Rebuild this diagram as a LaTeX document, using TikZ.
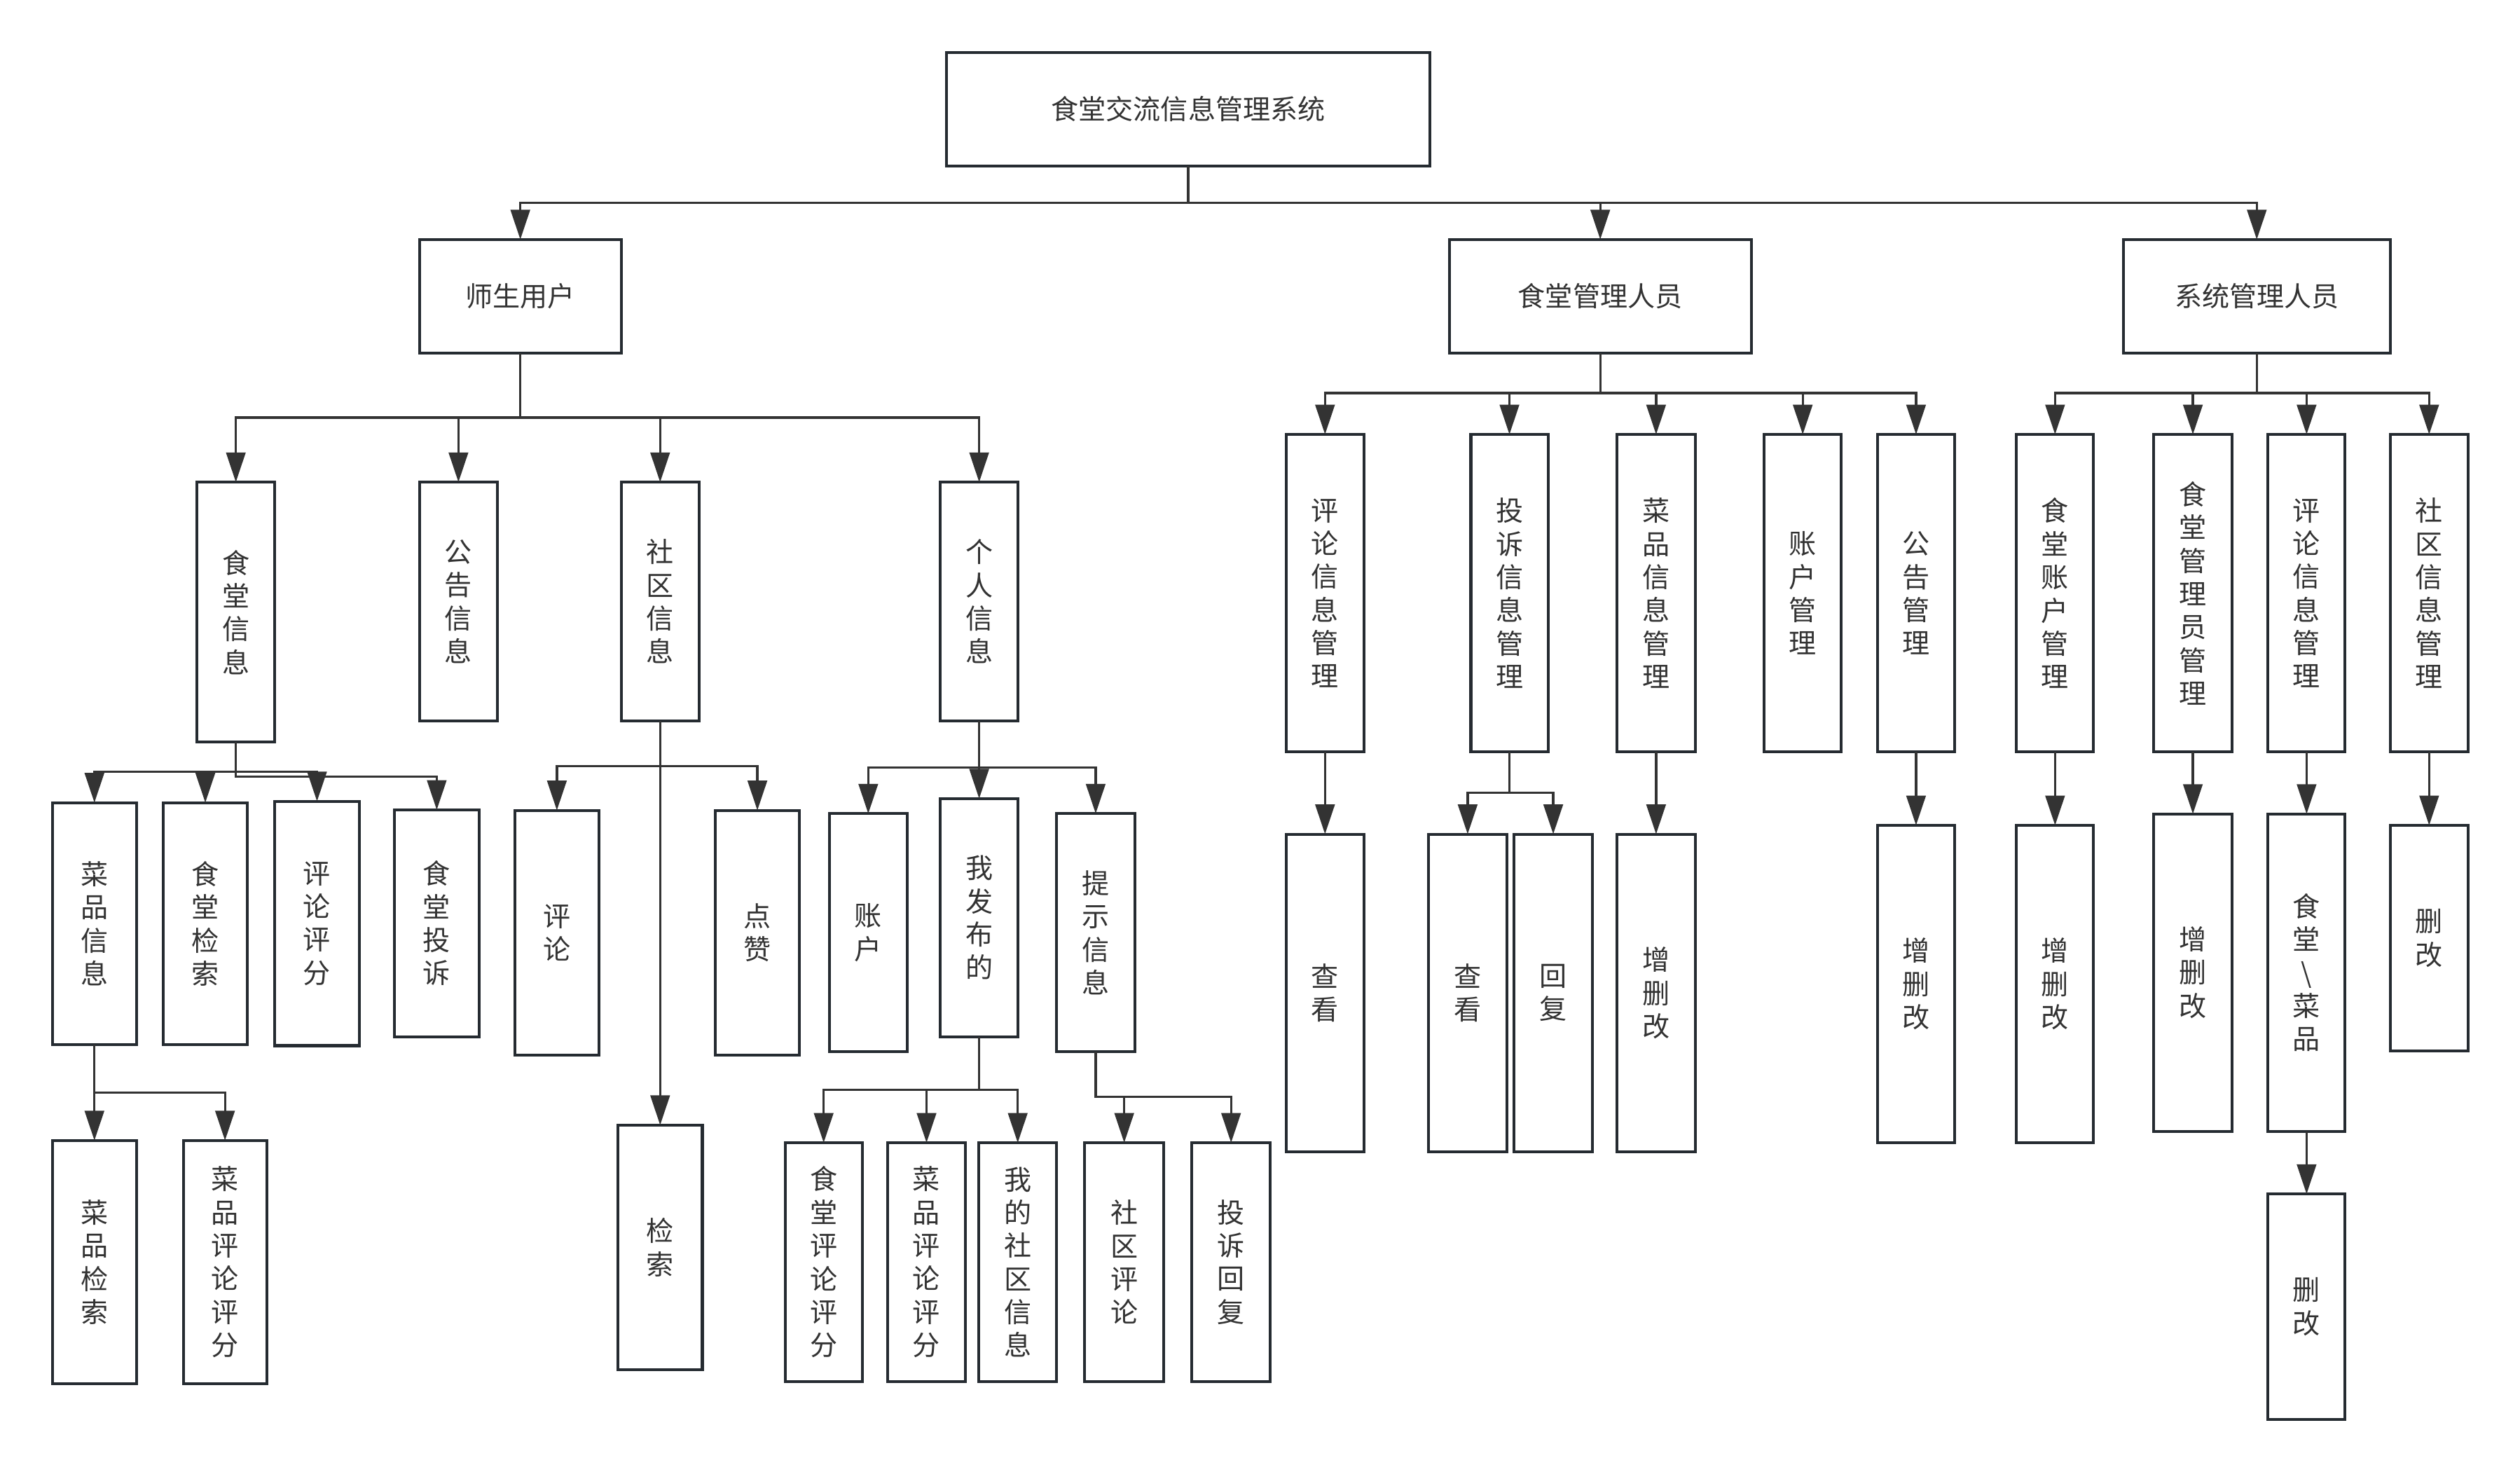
\documentclass[tikz,border=0pt]{standalone}
\usepackage{fontspec}
\newfontfamily\cjk{Noto Sans CJK SC}
\usetikzlibrary{arrows.meta}
\definecolor{boxc}{HTML}{252B31}
\definecolor{linec}{HTML}{333333}
\definecolor{txtc}{HTML}{333333}
\tikzset{
  box/.style={draw=boxc, line width=1pt, fill=white, text=txtc,
    font=\cjk\fontsize{9.7pt}{11.75pt}\selectfont, align=center,
    inner sep=0pt, outer sep=0pt},
  conn/.style={draw=linec, line width=0.82pt,
    -{Triangle[length=0.37cm,width=0.24cm]}}
}
% \rbox{name}{x1}{y1}{x2}{y2}{text}
\newcommand\rbox[6]{\node[box, minimum width={(#4-#2)*0.02cm},
  minimum height={(#5-#3)*0.02cm}] (#1) at ({(#2+#4)/2},{(#3+#5)/2}) {#6};}
\begin{document}
\begin{tikzpicture}[x=0.02cm, y=-0.02cm]
\useasboundingbox (0,0) rectangle (1568,915.86);

% top level
\rbox{root}{589}{32.5}{889.7}{103.2}{食堂交流信息管理系统}
\rbox{u}{261}{149}{386.5}{219.8}{师生用户}
\rbox{cm}{901.7}{149}{1089.7}{219.8}{食堂管理人员}
\rbox{sm}{1321.2}{149}{1487.2}{219.8}{系统管理人员}

% teachers and students
\rbox{u1}{122.5}{300}{171}{461.8}{食\\堂\\信\\息}
\rbox{u2}{261}{300}{309.5}{448.6}{公\\告\\信\\息}
\rbox{u3}{386.5}{300}{435}{448.6}{社\\区\\信\\息}
\rbox{u4}{585}{300}{633.5}{448.6}{个\\人\\信\\息}

\rbox{u11}{32.5}{499.4}{85}{650}{菜\\品\\信\\息}
\rbox{u12}{101.5}{499.4}{154}{650}{食\\堂\\检\\索}
\rbox{u13}{171}{498.6}{223.5}{650.6}{评\\论\\评\\分}
\rbox{u14}{245.5}{503.9}{298}{645}{食\\堂\\投\\诉}
\rbox{u111}{32.5}{709.6}{85}{861}{菜\\品\\检\\索}
\rbox{u112}{114}{709.6}{166}{861}{菜\\品\\评\\论\\评\\分}

\rbox{u31}{320.5}{504.2}{372.5}{656.4}{评\\论}
\rbox{u32}{445}{504.2}{497.5}{656.4}{点\\赞}
\rbox{u33}{384.5}{700}{437}{852.2}{检\\索}

\rbox{u41}{516}{506.2}{564.5}{654.4}{账\\户}
\rbox{u42}{585}{496.9}{633.5}{645}{我\\发\\布\\的}
\rbox{u43}{657.5}{506.2}{706}{654.4}{提\\示\\信\\息}
\rbox{u421}{488.5}{711}{536.5}{859.5}{食\\堂\\评\\论\\评\\分}
\rbox{u422}{552.5}{711}{600.5}{859.5}{菜\\品\\评\\论\\评\\分}
\rbox{u423}{609}{711}{657.5}{859.5}{我\\的\\社\\区\\信\\息}
\rbox{u431}{675}{711}{724}{859.5}{社\\区\\评\\论}
\rbox{u432}{741.5}{711}{790.5}{859.5}{投\\诉\\回\\复}

% canteen staff
\rbox{c1}{800.2}{270.3}{848.7}{467.9}{评\\论\\信\\息\\管\\理}
\rbox{c2}{915.2}{270.3}{963.2}{467.9}{投\\诉\\信\\息\\管\\理}
\rbox{c3}{1006.2}{270.3}{1054.7}{467.9}{菜\\品\\信\\息\\管\\理}
\rbox{c4}{1097.7}{270.3}{1145.7}{467.9}{账\\户\\管\\理}
\rbox{c5}{1168.2}{270.3}{1216.2}{467.9}{公\\告\\管\\理}
\rbox{c11}{800.2}{519}{848.7}{716.6}{查\\看}
\rbox{c21}{888.7}{519}{937.7}{716.6}{查\\看}
\rbox{c22}{942.2}{519}{990.7}{716.6}{回\\复}
\rbox{c31}{1006.2}{519}{1054.7}{716.6}{增\\删\\改}
\rbox{c51}{1168.2}{513.5}{1216.2}{711}{增\\删\\改}

% system administrators
\rbox{s1}{1254.7}{270.3}{1302.7}{467.9}{食\\堂\\账\\户\\管\\理}
\rbox{s2}{1340.2}{270.3}{1388.7}{467.9}{食\\堂\\管\\理\\员\\管\\理}
\rbox{s3}{1411.2}{270.3}{1459.2}{467.9}{评\\论\\信\\息\\管\\理}
\rbox{s4}{1487.2}{270.3}{1535.7}{467.9}{社\\区\\信\\息\\管\\理}
\rbox{s11}{1254.7}{513.5}{1302.7}{711}{增\\删\\改}
\rbox{s21}{1340.2}{506.4}{1388.7}{703.8}{增\\删\\改}
\rbox{s31}{1411.2}{506.4}{1459.2}{703.8}{食\\堂\\\textbackslash\\菜\\品}
\rbox{s311}{1411.2}{742.9}{1459.2}{883}{删\\改}
\rbox{s41}{1487.2}{513.5}{1535.7}{653.8}{删\\改}

% levels of the branch bars
\coordinate (b0) at (0,126.1);
\coordinate (bu) at (0,259.8);
\coordinate (bu1a) at (0,480.2);
\coordinate (bu1b) at (0,483.3);
\coordinate (bu11) at (0,679.8);
\coordinate (bu3) at (0,476.7);
\coordinate (bu4) at (0,477.6);
\coordinate (bu42) at (0,678);
\coordinate (bu43) at (0,682.5);
\coordinate (bc) at (0,244.6);
\coordinate (bc2) at (0,493.3);
\coordinate (bs) at (0,244.6);

% connectors
\foreach \c in {u,cm,sm}
  \draw[conn] (root.south) -- (root.south |- b0) -| (\c.north);
\foreach \c in {u1,u2,u3,u4}
  \draw[conn] (u.south) -- (u.south |- bu) -| (\c.north);
\foreach \c in {u11,u12,u13}
  \draw[conn] (u1.south) -- (u1.south |- bu1a) -| (\c.north);
\draw[conn] (u1.south) -- (u1.south |- bu1b) -| (u14.north);
\foreach \c in {u111,u112}
  \draw[conn] (u11.south) -- (u11.south |- bu11) -| (\c.north);
\foreach \c in {u31,u32}
  \draw[conn] (u3.south) -- (u3.south |- bu3) -| (\c.north);
\draw[conn] (u3.south) -- (u33.north);
\foreach \c in {u41,u42,u43}
  \draw[conn] (u4.south) -- (u4.south |- bu4) -| (\c.north);
\foreach \c in {u421,u422,u423}
  \draw[conn] (u42.south) -- (u42.south |- bu42) -| (\c.north);
\foreach \c in {u431,u432}
  \draw[conn] (u43.south) -- (u43.south |- bu43) -| (\c.north);

\foreach \c in {c1,c2,c3,c4,c5}
  \draw[conn] (cm.south) -- (cm.south |- bc) -| (\c.north);
\draw[conn] (c1.south) -- (c11.north);
\foreach \c in {c21,c22}
  \draw[conn] (c2.south) -- (c2.south |- bc2) -| (\c.north);
\draw[conn] (c3.south) -- (c31.north);
\draw[conn] (c5.south) -- (c51.north);

\foreach \c in {s1,s2,s3,s4}
  \draw[conn] (sm.south) -- (sm.south |- bs) -| (\c.north);
\draw[conn] (s1.south) -- (s11.north);
\draw[conn] (s2.south) -- (s21.north);
\draw[conn] (s3.south) -- (s31.north);
\draw[conn] (s31.south) -- (s311.north);
\draw[conn] (s4.south) -- (s41.north);
\end{tikzpicture}
\end{document}
